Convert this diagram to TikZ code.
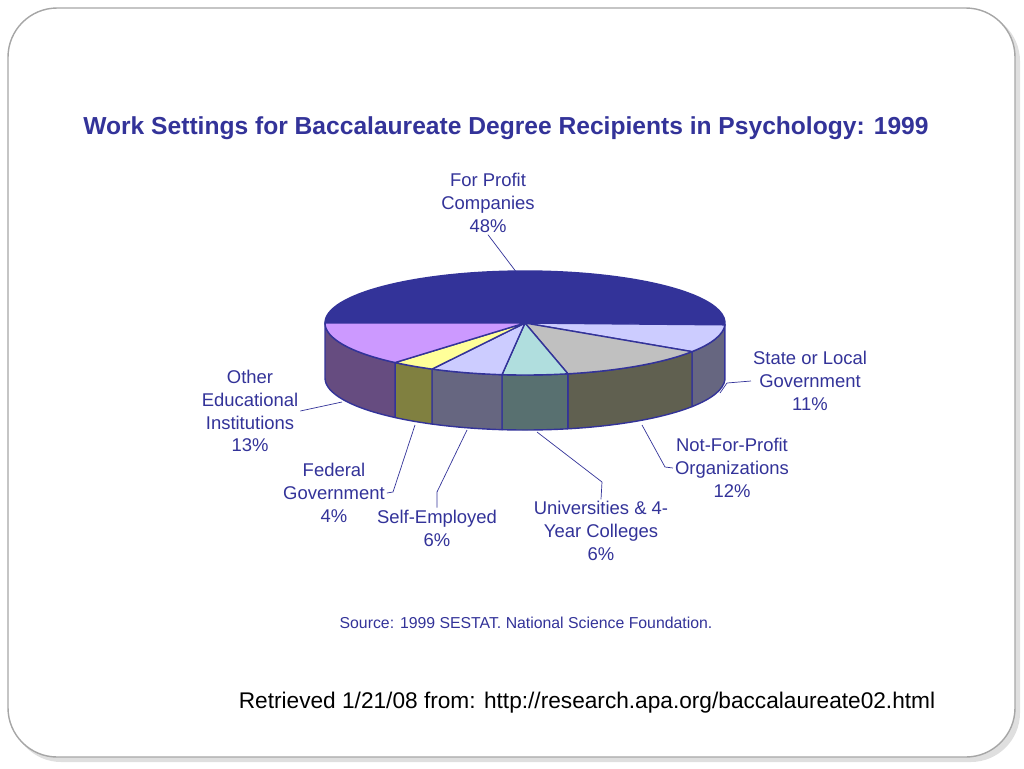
\documentclass[tikz,border=0pt]{standalone}
\usepackage{fontspec}
\setmainfont{Liberation Sans}
\setsansfont{Liberation Sans}
\usepackage{tikz}
\definecolor{pienavy}{RGB}{51,51,153}
\definecolor{piepurple}{RGB}{204,153,255}
\definecolor{pieyellow}{RGB}{255,255,153}
\definecolor{pielav}{RGB}{204,204,255}
\definecolor{piecyan}{RGB}{176,222,222}
\definecolor{piegray}{RGB}{192,192,192}
\definecolor{sidepurple}{RGB}{102,76,128}
\definecolor{sideyellow}{RGB}{128,128,64}
\definecolor{sidelav}{RGB}{102,102,128}
\definecolor{sidecyan}{RGB}{88,112,112}
\definecolor{sidegray}{RGB}{96,96,80}
\tikzset{
  lbl/.style={text=pienavy, font=\fontsize{10.5}{13}\selectfont\sffamily, align=center, inner sep=1pt},
  lead/.style={pienavy, thin},
  wedge/.style={draw=pienavy, line width=0.8pt, line join=round}
}
\newcommand{\pieside}[3]{% start, end, colour
  \filldraw[wedge, fill=#3] ({525+200*cos(#1)},{323+52*sin(#1)})
    arc[start angle=#1, end angle=#2, x radius=200, y radius=52]
    -- ++(0,55) arc[start angle=#2, end angle=#1, x radius=200, y radius=52] -- cycle;}
\newcommand{\pietop}[3]{%
  \filldraw[wedge, fill=#3] (525,323) -- ({525+200*cos(#1)},{323+52*sin(#1)})
    arc[start angle=#1, end angle=#2, x radius=200, y radius=52] -- cycle;}
\begin{document}
\begin{tikzpicture}[x=0.02cm, y=-0.02cm]
\useasboundingbox (0,0) rectangle (1024,768);
% slide frame
\fill[gray!25, rounded corners=28pt] (12,12) rectangle (1020,762);
\filldraw[fill=white, draw=gray!70, line width=0.8pt, rounded corners=28pt] (8,8) rectangle (1015,757);

% title
\node[text=pienavy, font=\fontsize{14}{17}\selectfont\bfseries] (title) at (506,128) {Work Settings for Baccalaureate Degree Recipients in Psychology: 1999};

% side walls
\pieside{2}{33.4}{sidelav}
\pieside{33.4}{77.6}{sidegray}
\pieside{77.6}{96.6}{sidecyan}
\pieside{96.6}{117.7}{sidelav}
\pieside{117.7}{130.5}{sideyellow}
\pieside{130.5}{180}{sidepurple}
% top
\pietop{180}{362}{pienavy}
\pietop{2}{33.4}{pielav}
\pietop{33.4}{77.6}{piegray}
\pietop{77.6}{96.6}{piecyan}
\pietop{96.6}{117.7}{pielav}
\pietop{117.7}{130.5}{pieyellow}
\pietop{130.5}{180}{piepurple}

% labels
\node[lbl] (profit) at (488,203) {For Profit\\Companies\\48\%};
\node[lbl] (state) at (810,381) {State or Local\\Government\\11\%};
\node[lbl] (nonprofit) at (732,468) {Not-For-Profit\\Organizations\\12\%};
\node[lbl] (univ) at (601,531) {Universities \& 4-\\Year Colleges\\6\%};
\node[lbl] (self) at (437,528) {Self-Employed\\6\%};
\node[lbl] (federal) at (334,493) {Federal\\Government\\4\%};
\node[lbl] (other) at (250,411) {Other\\Educational\\Institutions\\13\%};

% leaders
\coordinate (pProfit) at (517,273);
\coordinate (pState) at (720,393);
\coordinate (pNon) at (642,425);
\coordinate (pUniv) at (537,432);
\coordinate (pSelf) at (467,430);
\coordinate (pFed) at (415,425);
\coordinate (pOther) at (342,402);
\draw[lead] (pProfit) -- (profit.south);
\draw[lead] (pState) -- (727,383) -- (state.west);
\draw[lead] (pNon) -- (665,467) -- (nonprofit.west);
\draw[lead] (pUniv) -- (602,482) -- (univ.north);
\draw[lead] (pSelf) -- (437,492) -- (self.north);
\draw[lead] (pFed) -- (393,492) -- (federal.east);
\draw[lead] (pOther) -- (other.east);

% source
\node[text=pienavy, font=\fontsize{9}{11}\selectfont] (source) at (526,623) {Source: 1999 SESTAT. National Science Foundation.};
\node[font=\fontsize{12.9}{15}\selectfont] (retrieved) at (587,703) {Retrieved 1/21/08 from: http://research.apa.org/baccalaureate02.html};
\end{tikzpicture}
\end{document}
